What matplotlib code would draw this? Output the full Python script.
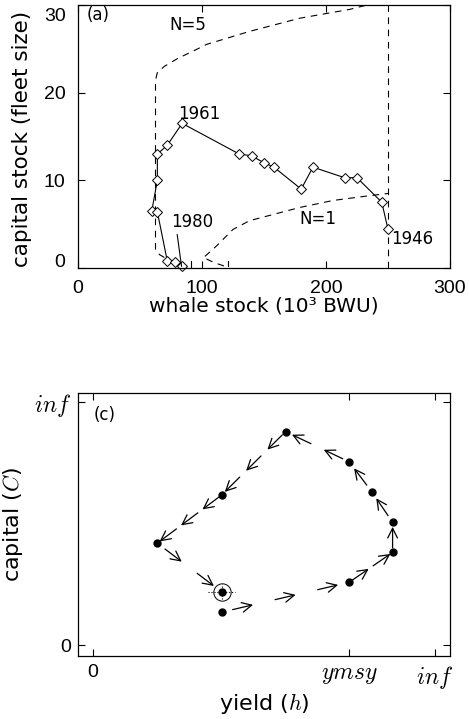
import matplotlib
matplotlib.use('Agg')
import matplotlib.pyplot as plt
import numpy as np

plt.rcParams['font.family'] = ['Liberation Sans', 'DejaVu Sans']
plt.rcParams['mathtext.fontset'] = 'cm'
WIDE = ['DejaVu Sans']

# panel (a): trajectory 1946 -> 1980
whale = [250, 245, 225, 215, 189.5, 180, 158, 150, 140, 130, 84, 72, 64, 64, 59.5, 64, 72, 78.5, 83.5]
fleet = [4.4, 7.5, 10.3, 10.3, 11.5, 9.0, 11.5, 12.0, 12.8, 13.0, 16.5, 14.0, 13.0, 10.0, 6.5, 6.4, 0.8, 0.7, 0.2]

# dashed isoclines
n5_x = [88, 80, 72, 66, 62.5, 62.5, 64, 69.6, 80.4, 96.5, 103.5, 138.5, 179, 219, 233]
n5_y = [0.2, 0.55, 1.0, 1.5, 2.0, 21.4, 22.3, 23.0, 23.9, 25.0, 25.5, 27.0, 28.5, 29.5, 30.0]
n1_x = [117.7, 110, 101, 103, 111.6, 125, 138.4, 151.9, 178.8, 205.6, 232.5, 250]
n1_y = [0.23, 0.6, 1.2, 1.4, 2.5, 4.4, 5.4, 5.9, 6.9, 7.7, 8.2, 8.5]

# panel (c): yield / capital cycle (scaled 0..1)
hx = [0.376, 0.749, 0.876, 0.876, 0.815, 0.749, 0.563, 0.376, 0.188, 0.376]
cy = [0.135, 0.258, 0.381, 0.505, 0.631, 0.754, 0.878, 0.617, 0.419, 0.219]
n_arrows = [3, 2, 1, 1, 1, 2, 3, 3, 2]

fig = plt.figure(figsize=(4.69, 7.19), dpi=100)

# ---------------- (a)
ax = fig.add_axes([0.1663, 0.6273, 0.7932, 0.3657])
ax.set_xlim(0, 300)
ax.set_ylim(0, 30)
ax.plot(n5_x, n5_y, 'k--', lw=0.8, dashes=(6, 5))
ax.plot([91, 91], [0.1, 0.8], 'k-', lw=0.8)
ax.plot(n1_x, n1_y, 'k--', lw=0.8, dashes=(6, 5))
ax.plot([121, 121], [0.2, 0.8], 'k-', lw=0.8)
ax.axvline(250, color='k', ls='--', lw=0.8, dashes=(6, 5))
ax.plot(whale, fleet, 'k-', lw=0.8, marker='D', ms=5, mfc='white', mec='k', mew=0.7, clip_on=False)
ax.plot([80, whale[-1]], [3.8, fleet[-1]], 'k-', lw=0.8)
ax.text(97.6, 17.6, '1961', fontsize=12, ha='center', va='center', family=WIDE)
ax.text(269.6, 3.3, '1946', fontsize=12, ha='center', va='center', family=WIDE)
ax.text(92, 5.2, '1980', fontsize=12, ha='center', va='center', family=WIDE)
ax.text(88.7, 27.7, 'N=5', fontsize=12, ha='center', va='center', family=WIDE)
ax.text(193.5, 5.6, 'N=1', fontsize=12, ha='center', va='center', family=WIDE)
ax.text(0.053, 0.962, '(a)', transform=ax.transAxes, fontsize=12, ha='center', va='center', family=WIDE)
ax.set_xticks([0, 100, 200, 300])
yt = [0, 10, 20, 30]
ax.set_yticks(yt)
# end labels sit a little inside the axis range
ax.set_yticklabels(['', '10', '20', ''])
ytr = ax.get_yaxis_transform()
ax.text(-0.0336, yt[0] + 0.8, str(yt[0]), transform=ytr, ha='right', va='center_baseline', fontsize=14)
ax.text(-0.0336, yt[-1] - 1.1, str(yt[-1]), transform=ytr, ha='right', va='center_baseline', fontsize=14)
ax.tick_params(direction='in', length=5, width=0.8, top=True, right=True, labelsize=14, pad=9)
ax.set_xlabel('whale stock (10³ BWU)', fontsize=14.5, family=WIDE)
ax.set_ylabel('capital stock (fleet size)', fontsize=15.5, family=WIDE)
ax.xaxis.set_label_coords(0.5, -0.11)
ax.yaxis.set_label_coords(-0.124, 0.49)
for s in ax.spines.values():
    s.set_linewidth(0.9)

# ---------------- (c)
bx = fig.add_axes([0.1663, 0.0876, 0.7932, 0.3658])
bx.set_xlim(-0.0439, 1.0439)
bx.set_ylim(-0.0453, 1.037)
bx.set_xticks([0, 0.749, 1])
bx.set_xticklabels(['0', r'$ymsy$', r'$inf$'])
bx.set_yticks([0, 1])
bx.set_yticklabels(['0', r'$inf$'])
bx.tick_params(direction='in', length=5, width=0.8, top=True, right=True, labelsize=14, pad=6)
bx.tick_params(axis='y', pad=5)
for lab in bx.get_xticklabels()[1:] + bx.get_yticklabels()[1:]:
    lab.set_fontsize(17)
bx.set_xlabel(r'yield ($h$)', fontsize=16, family=WIDE)
bx.set_ylabel(r'capital ($C$)', fontsize=16, family=WIDE)
bx.xaxis.set_label_coords(0.5, -0.133)
bx.yaxis.set_label_coords(-0.142, 0.5)
for s in bx.spines.values():
    s.set_linewidth(0.9)
bx.text(0.072, 0.916, '(c)', transform=bx.transAxes, fontsize=12, ha='center', va='center', family=WIDE)

bx.plot(hx, cy, 'o', color='k', ms=5, ls='none')
# circled equilibrium point with dotted cross
bx.plot(hx[-1], cy[-1], 'o', ms=12.5, mfc='none', mec='k', mew=0.7)
bx.plot([hx[-1] - 0.04, hx[-1] + 0.04], [cy[-1], cy[-1]], 'k:', lw=0.8)
bx.plot([hx[-1], hx[-1]], [cy[-1] - 0.03, cy[-1] + 0.03], 'k:', lw=0.8)

# arrows along each segment, spaced evenly in pixel space
fig.canvas.draw()
trans = bx.transData
inv = trans.inverted()
pts = trans.transform(np.column_stack([hx, cy]))
for k, n in enumerate(n_arrows):
    p0, p1 = pts[k], pts[k + 1]
    d = p1 - p0
    L = np.hypot(*d)
    u = d / L
    alen = min(21, 0.85 * L / n)
    for i in range(n):
        c = p0 + u * L * (i + 0.5) / n
        tail = inv.transform(c - u * alen / 2)
        head = inv.transform(c + u * alen / 2)
        bx.annotate('', xy=head, xytext=tail,
                    arrowprops=dict(arrowstyle='->,head_length=0.5,head_width=0.25',
                                    lw=0.9, color='k', shrinkA=0, shrinkB=0,
                                    mutation_scale=14))

plt.savefig('out.png', dpi=100)
plt.close()
